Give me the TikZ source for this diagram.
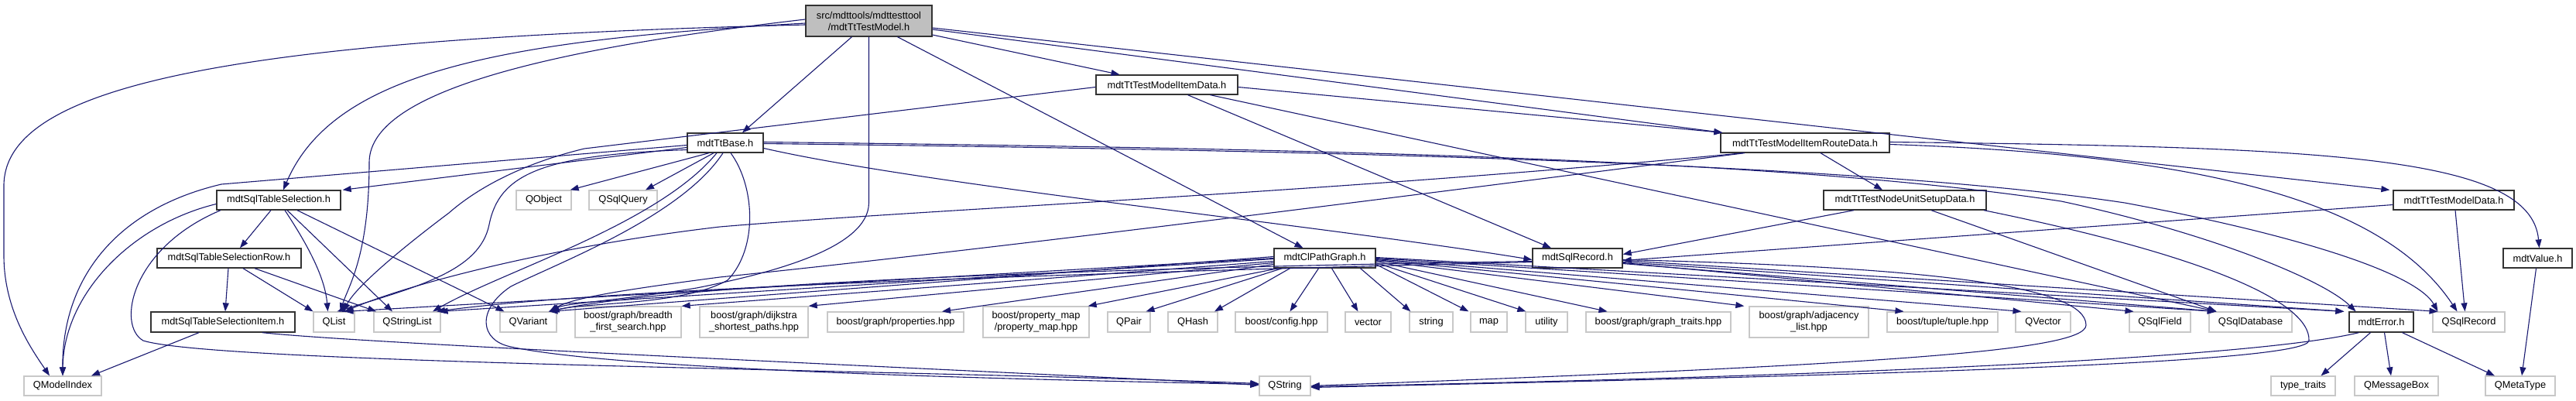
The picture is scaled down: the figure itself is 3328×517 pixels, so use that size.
\documentclass[tikz,border=0pt]{standalone}
\usepackage{fontspec}
\setmainfont{Liberation Sans}
\usetikzlibrary{arrows.meta}
\definecolor{edgeblue}{HTML}{191970}
\definecolor{sysgray}{HTML}{C8C8C8}
\definecolor{rootfill}{HTML}{BFBFBF}
\begin{document}
\begin{tikzpicture}[x=1pt,y=-1pt,
  box/.style={rectangle, inner sep=0pt, minimum height=25pt, line width=1.3pt, font=\fontsize{12.8}{15}\selectfont, align=center},
  doc/.style={box, draw=black!80, fill=white},
  sys/.style={box, draw=sysgray, fill=white},
  rootn/.style={box, draw=black!80, fill=rootfill, minimum height=40pt},
  e/.style={draw=edgeblue, line width=1.1pt, -{Triangle[length=11pt,width=8pt]}}]
\useasboundingbox (0,0) rectangle (3328,517);
% ---------- nodes ----------
\node[rootn, minimum width=163pt] (R) at (1122.5,27) {src/mdttools/mdttesttool\\/mdtTtTestModel.h};
\node[doc, minimum width=183pt] (itemdata) at (1507.5,109.5) {mdtTtTestModelItemData.h};
\node[doc, minimum width=98pt] (base) at (937,184.5) {mdtTtBase.h};
\node[doc, minimum width=218pt] (route) at (2332,184.5) {mdtTtTestModelItemRouteData.h};
\node[doc, minimum width=160pt] (sel) at (360,258.5) {mdtSqlTableSelection.h};
\node[doc, minimum width=210pt] (setup) at (2461,258.5) {mdtTtTestNodeUnitSetupData.h};
\node[doc, minimum width=156pt] (modeldata) at (3170,258.5) {mdtTtTestModelData.h};
\node[doc, minimum width=186pt] (selrow) at (296,333.5) {mdtSqlTableSelectionRow.h};
\node[doc, minimum width=131pt] (graph) at (1711.5,333.5) {mdtClPathGraph.h};
\node[doc, minimum width=116pt] (record) at (2038,333.5) {mdtSqlRecord.h};
\node[doc, minimum width=89pt] (value) at (3278.5,333.5) {mdtValue.h};
\node[doc, minimum width=186pt, minimum height=26pt] (selitem) at (288,416) {mdtSqlTableSelectionItem.h};
\node[doc, minimum width=83pt, minimum height=26pt] (error) at (3076.5,416) {mdtError.h};
\node[sys, minimum width=71pt] (qobject) at (702.5,258.5) {QObject};
\node[sys, minimum width=88pt] (qsqlquery) at (805,258.5) {QSqlQuery};
\node[sys, minimum width=53pt, minimum height=26pt] (qlist) at (431.5,416) {QList};
\node[sys, minimum width=86pt, minimum height=26pt] (qstringlist) at (526,416) {QStringList};
\node[sys, minimum width=73pt, minimum height=26pt] (qvariant) at (682.5,416) {QVariant};
\node[sys, minimum width=137pt, minimum height=40pt] (bfs) at (811.5,416) {boost/graph/breadth\\\_first\_search.hpp};
\node[sys, minimum width=140pt, minimum height=40pt] (dijkstra) at (974,416) {boost/graph/dijkstra\\\_shortest\_paths.hpp};
\node[sys, minimum width=176pt, minimum height=26pt] (props) at (1157,416) {boost/graph/properties.hpp};
\node[sys, minimum width=137pt, minimum height=40pt] (propmap) at (1338.5,416) {boost/property\_map\\/property\_map.hpp};
\node[sys, minimum width=55pt, minimum height=26pt] (qpair) at (1458.5,416) {QPair};
\node[sys, minimum width=64pt, minimum height=26pt] (qhash) at (1541,416) {QHash};
\node[sys, minimum width=119pt, minimum height=26pt] (config) at (1655.5,416) {boost/config.hpp};
\node[sys, minimum width=59pt, minimum height=26pt] (vector) at (1767.5,416) {vector};
\node[sys, minimum width=56pt, minimum height=26pt] (string) at (1849,416) {string};
\node[sys, minimum width=47pt, minimum height=26pt] (map) at (1923.5,416) {map};
\node[sys, minimum width=54pt, minimum height=26pt] (utility) at (1998,416) {utility};
\node[sys, minimum width=187pt, minimum height=26pt] (traits) at (2142.5,416) {boost/graph/graph\_traits.hpp};
\node[sys, minimum width=154pt, minimum height=40pt] (adj) at (2337,416) {boost/graph/adjacency\\\_list.hpp};
\node[sys, minimum width=143pt, minimum height=26pt] (tuple) at (2509.5,416) {boost/tuple/tuple.hpp};
\node[sys, minimum width=71pt, minimum height=26pt] (qvector) at (2639.5,416) {QVector};
\node[sys, minimum width=79pt, minimum height=26pt] (qsqlfield) at (2790.5,416) {QSqlField};
\node[sys, minimum width=107pt, minimum height=26pt] (qsqldb) at (2907.5,416) {QSqlDatabase};
\node[sys, minimum width=93pt, minimum height=26pt] (qsqlrecord) at (3189.5,416) {QSqlRecord};
\node[sys, minimum width=100pt] (qmodelindex) at (81,498.5) {QModelIndex};
\node[sys, minimum width=66pt] (qstring) at (1660,498.5) {QString};
\node[sys, minimum width=83pt] (typetraits) at (2975.5,498.5) {type\_traits};
\node[sys, minimum width=108pt] (qmessagebox) at (3096,498.5) {QMessageBox};
\node[sys, minimum width=90pt] (qmetatype) at (3256,498.5) {QMetaType};
% ---------- edges: root ----------
\draw[e] ([yshift=-5pt]R.west) .. controls (300,50) and (5,110) .. (5,240) -- (5,330) .. controls (5,400) and (40,450) .. ([xshift=-17pt]qmodelindex.north);
\draw[e] ([yshift=-3pt]R.west) .. controls (640,52) and (430,95) .. ([xshift=6pt]sel.north);
\draw[e] ([yshift=2pt]R.west) .. controls (650,70) and (477,130) .. (477,210) .. controls (477,330) and (450,370) .. ([xshift=8pt]qlist.north);
\draw[e] ([xshift=-22pt]R.south) -- ([xshift=22pt]base.north);
\draw[e] (R.south) -- (1122.5,262) .. controls (1122,320) and (1000,352) .. (900,372) .. controls (800,388) and (730,392) .. ([xshift=29pt]qvariant.north);
\draw[e] ([xshift=37pt]R.south) -- ([xshift=-28pt]graph.north);
\draw[e] ([yshift=-18pt]R.east) -- ([xshift=-61pt]itemdata.north);
\draw[e] ([yshift=-11pt]R.east) -- ([xshift=3pt]route.north west);
\draw[e] ([yshift=-9pt]R.east) -- ([xshift=-4pt]modeldata.north west);
% ---------- base ----------
\draw[e] ([yshift=-6pt]base.west) -- ([xshift=2pt]sel.north east);
\draw[e] ([yshift=-3pt]base.west) -- (286,238) .. controls (150,270) and (80,360) .. (qmodelindex.north);
\draw[e] ([yshift=-9pt]base.west) .. controls (700,200) and (645,225) .. (632,290) .. controls (620,350) and (540,370) .. ([xshift=4pt]qlist.north);
\draw[e] ([xshift=-21pt]base.south) -- ([xshift=-2pt]qobject.north east);
\draw[e] ([xshift=-15pt]base.south) -- ([xshift=29pt]qsqlquery.north);
\draw[e] ([xshift=-11pt]base.south) .. controls (850,290) and (650,350) .. ([xshift=33pt]qstringlist.north);
\draw[e] ([xshift=7pt]base.south) .. controls (975,240) and (980,320) .. (940,362) .. controls (880,395) and (760,390) .. ([xshift=29pt]qvariant.north);
\draw[e] ([xshift=-3pt]base.south) .. controls (880,280) and (720,340) .. (660,370) .. controls (615,400) and (620,440) .. (660,448) .. controls (800,478) and (1300,490) .. ([yshift=2pt]qstring.west);
\draw[e] ([yshift=-7pt]base.east) .. controls (1200,240) and (1700,290) .. ([yshift=-2pt]record.west);
\draw[e] ([yshift=1pt]base.east) .. controls (1700,192) and (2300,205) .. (2663,260) .. controls (2850,300) and (3000,360) .. ([xshift=-33pt]error.north);
\draw[e] ([yshift=-1pt]base.east) .. controls (1700,194) and (2400,210) .. (2745,262) .. controls (2950,300) and (3120,350) .. ([xshift=-40pt]qsqlrecord.north);
% ---------- sel ----------
\draw[e] ([xshift=-10pt]sel.south) -- ([xshift=14pt]selrow.north);
\draw[e] ([xshift=8pt]sel.south) .. controls (400,320) and (420,360) .. ([xshift=-8pt]qlist.north);
\draw[e] ([xshift=11pt]sel.south) -- ([xshift=-19pt]qstringlist.north);
\draw[e] ([xshift=24pt]sel.south) -- ([xshift=-31pt]qvariant.north);
\draw[e] ([yshift=-5pt]sel.west) .. controls (170,290) and (82,380) .. (qmodelindex.north);
\draw[e] ([xshift=-75pt]sel.south) .. controls (170,320) and (150,420) .. (185,440) .. controls (280,470) and (1200,478) .. ([yshift=3pt]qstring.west);
% ---------- selrow / selitem ----------
\draw[e] ([xshift=-1pt]selrow.south) -- ([xshift=3pt]selitem.north);
\draw[e] ([xshift=18pt]selrow.south) -- ([xshift=-27pt]qlist.north);
\draw[e] ([xshift=33pt]selrow.south) -- ([xshift=-40pt]qstringlist.north);
\draw[e] ([xshift=-31pt]selitem.south) -- ([xshift=37pt]qmodelindex.north);
\draw[e] ([xshift=51pt]selitem.south) .. controls (480,445) and (1300,480) .. ([yshift=1pt]qstring.west);
% ---------- itemdata ----------
\draw[e] ([yshift=-3pt]itemdata.east) -- ([xshift=3pt]route.north west);
\draw[e] ([xshift=27pt]itemdata.south) -- ([xshift=-34pt]record.north);
\draw[e] ([xshift=56pt]itemdata.south) -- ([xshift=-44pt]qsqldb.north);
\draw[e] ([yshift=-3pt]itemdata.west) -- (755,192) .. controls (680,210) and (620,240) .. (580,275) .. controls (520,320) and (460,370) .. ([xshift=12pt]qlist.north);
% ---------- route ----------
\draw[e] ([xshift=20pt]route.south) -- ([xshift=-29pt]setup.north);
\draw[e] ([yshift=1pt]route.east) .. controls (3000,190) and (3270,200) .. ([xshift=2pt]value.north);
\draw[e] ([yshift=-2pt]route.east) .. controls (2850,200) and (3080,260) .. ([xshift=-15pt]qsqlrecord.north);
\draw[e] ([xshift=-80pt]route.south) .. controls (1700,250) and (1200,270) .. (930,293) .. controls (700,320) and (520,370) .. ([xshift=14pt]qlist.north);
\draw[e] ([xshift=-78pt]route.south) .. controls (1800,255) and (1300,320) .. (930,358) .. controls (800,375) and (740,385) .. ([xshift=27pt]qvariant.north);
% ---------- setup ----------
\draw[e] ([xshift=-66pt]setup.south) -- ([yshift=5pt]record.east);
\draw[e] ([xshift=34pt]setup.south) -- ([xshift=-44pt]qsqldb.north);
\draw[e] ([xshift=102pt]setup.south) .. controls (2850,330) and (2985,390) .. (2983,440) .. controls (2980,470) and (2400,485) .. ([yshift=-2pt]qstring.east);
% ---------- modeldata / value ----------
\draw[e] ([yshift=-6pt]modeldata.west) -- ([yshift=-3pt]record.east);
\draw[e] ([xshift=2pt]modeldata.south) -- ([xshift=-5pt]qsqlrecord.north);
\draw[e] ([xshift=-2pt]value.south) -- ([xshift=2pt]qmetatype.north);
% ---------- error ----------
\draw[e] ([xshift=-14pt]error.south) -- ([xshift=23pt]typetraits.north);
\draw[e] ([xshift=4pt]error.south) -- ([xshift=-7pt]qmessagebox.north);
\draw[e] ([xshift=27pt]error.south) -- ([xshift=-33pt]qmetatype.north);
\draw[e] ([xshift=-29pt]error.south) .. controls (2900,465) and (2300,488) .. ([yshift=-1pt]qstring.east);
% ---------- record ----------
\draw[e] ([yshift=-4pt]record.west) .. controls (1500,345) and (900,362) .. ([xshift=26pt]qvariant.north);
\draw[e] ([yshift=-5pt]record.west) .. controls (1500,350) and (800,370) .. ([xshift=38pt]qstringlist.north);
\draw[e] ([yshift=-2pt]record.east) .. controls (2500,345) and (2695,370) .. (2695,420) .. controls (2695,455) and (2400,472) .. (qstring.east);
\draw[e] ([yshift=-6pt]record.east) -- ([xshift=-34pt]qsqlfield.north);
\draw[e] ([yshift=-7pt]record.east) -- ([xshift=-44pt]qsqldb.north);
\draw[e] ([yshift=-5pt]record.east) -- ([xshift=-6pt]error.north west);
\draw[e] ([yshift=-3pt]record.east) -- ([xshift=-40pt]qsqlrecord.north);
% ---------- graph ----------
\draw[e] ([yshift=2pt]graph.west) -- ([xshift=27pt]qvariant.north);
\draw[e] (graph.west) -- ([xshift=14pt]qlist.north);
\draw[e] ([yshift=-1pt]graph.west) -- ([xshift=-2pt]qstringlist.north east);
\draw[e] ([yshift=-4pt]graph.west) -- (bfs.north east);
\draw[e] ([yshift=-6pt]graph.west) -- (dijkstra.north east);
\draw[e] ([yshift=-8pt]graph.west) -- ([xshift=60pt]props.north);
\draw[e] ([xshift=-60pt]graph.south) -- ([xshift=-2pt]propmap.north east);
\draw[e] ([xshift=-55pt]graph.south) -- ([xshift=22pt]qpair.north);
\draw[e] ([xshift=-45pt]graph.south) -- ([xshift=28pt]qhash.north);
\draw[e] ([xshift=-8pt]graph.south) -- ([xshift=11pt]config.north);
\draw[e] ([xshift=9pt]graph.south) -- ([xshift=-13pt]vector.north);
\draw[e] ([xshift=46pt]graph.south) -- ([xshift=2pt]string.north west);
\draw[e] ([yshift=-8pt]graph.east) -- ([xshift=-2pt]map.north west);
\draw[e] ([yshift=-6pt]graph.east) -- ([xshift=1pt]utility.north west);
\draw[e] ([yshift=-4pt]graph.east) -- ([xshift=-66pt]traits.north);
\draw[e] ([yshift=-3pt]graph.east) -- ([xshift=-6pt]adj.north west);
\draw[e] ([yshift=-2pt]graph.east) -- ([xshift=-50pt]tuple.north);
\draw[e] ([yshift=-1pt]graph.east) -- ([xshift=-28pt]qvector.north);
\draw[e] (graph.east) -- ([xshift=-45pt]qsqldb.north);
\draw[e] ([yshift=1pt]graph.east) -- ([xshift=-6pt]error.north west);
\end{tikzpicture}
\end{document}
